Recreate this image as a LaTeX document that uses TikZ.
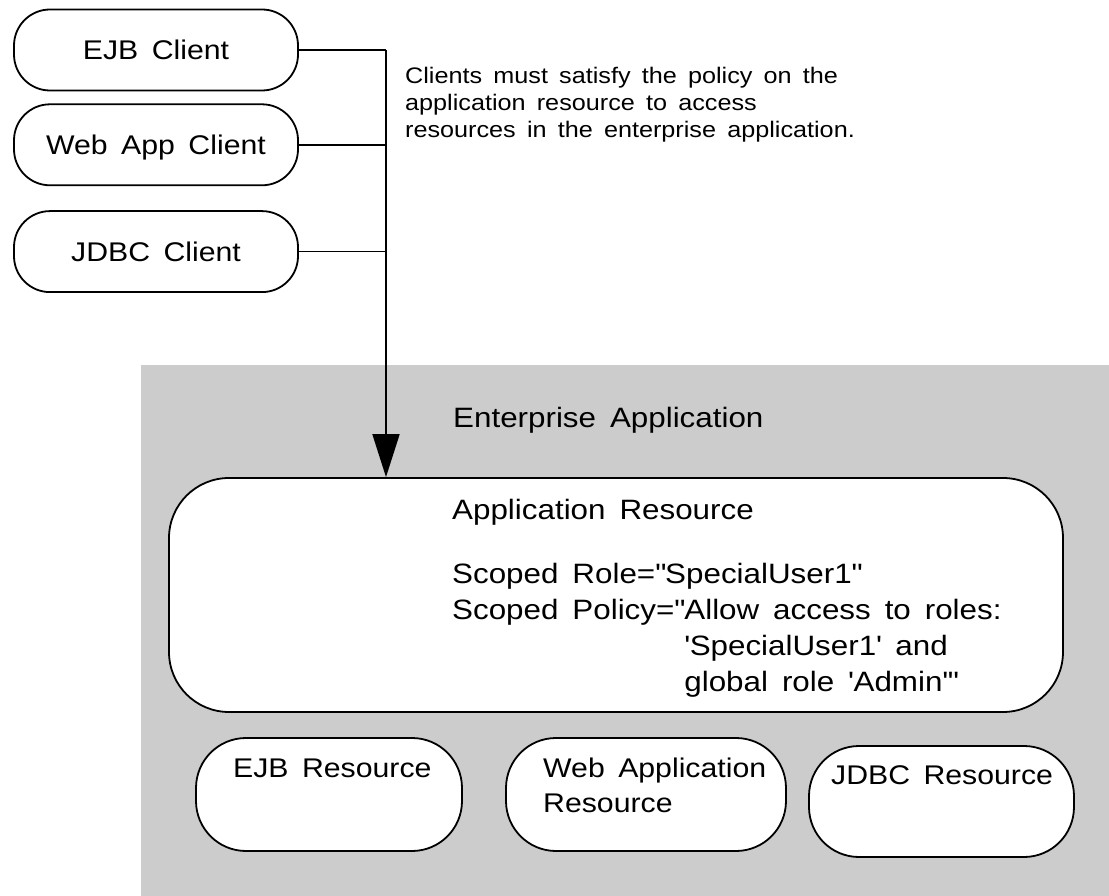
\documentclass[tikz,border=0pt]{standalone}
\usepackage{fontspec}
\setmainfont{Liberation Sans}[FakeStretch=1.12,WordSpace=1.6]
\usetikzlibrary{arrows.meta,positioning}
\definecolor{enterprisegray}{HTML}{CCCCCC}
\newcommand{\qdbl}{\textquotedbl}
\newcommand{\qsgl}{\textquotesingle}
\tikzstyle{clientbox} = [draw=black, fill=white, line width=1.8pt,
    rectangle, rounded corners=36pt, minimum width=284pt, minimum height=81pt,
    inner sep=0pt, text depth=0pt, font=\fontsize{27}{34}\selectfont]
\tikzstyle{resbox} = [draw=black, fill=white, line width=1.8pt, rectangle, inner sep=0pt]
\tikzstyle{plaintext} = [inner sep=0pt, anchor=base west, align=left,
    font=\fontsize{27}{35}\selectfont]
\tikzstyle{link} = [draw=black, line width=1.8pt]

\begin{document}
\begin{tikzpicture}[x=1pt, y=-1pt]
\useasboundingbox (0,0) rectangle (1109,896);
\fill[enterprisegray] (141,365) rectangle (1109,896);
\node[clientbox] (ejb) at (156,50) {EJB Client};
\node[clientbox, below=12pt of ejb] (webapp) {Web App Client};
\node[clientbox, below=24pt of webapp] (jdbc) {JDBC Client};
\coordinate (bus) at (386,50);
\draw[link] (ejb.east) -- (bus);
\draw[link] (webapp.east) -- (webapp.east -| bus);
\draw[link] (jdbc.east) -- (jdbc.east -| bus);
\node[plaintext, font=\fontsize{22.5}{27}\selectfont] (note) at (405,138)
    {Clients must satisfy the policy on the\\application resource to access\\resources in the enterprise application.};
\node[plaintext, font=\fontsize{28}{35}\selectfont] (enterprise) at (453,427) {Enterprise Application};
\node[resbox, rounded corners=60pt, minimum width=894pt, minimum height=234pt] (app) at (616,595) {};
\draw[link, -{Triangle[length=43pt,width=27pt]}] (bus) -- (bus |- app.north);
\node[plaintext, font=\fontsize{28}{36}\selectfont] (apptext) at (452,691)
    {Application Resource\\[28pt]
     Scoped Role=\qdbl SpecialUser1\qdbl\\
     Scoped Policy=\qdbl Allow access to roles:\\
     \phantom{Scoped Policy=\qdbl}\qsgl SpecialUser1\qsgl\ and\\
     \phantom{Scoped Policy=\qdbl}global role \qsgl Admin\qsgl\qdbl};
\node[resbox, rounded corners=50pt, minimum width=266pt, minimum height=113pt] (ejbres) at (329,794.5) {};
\node[plaintext] (ejbreslbl) at (233,777) {EJB Resource};
\node[resbox, rounded corners=50pt, minimum width=280pt, minimum height=113pt] (webres) at (646,794.5) {};
\node[plaintext] (webreslbl) at (543,812) {Web Application\\Resource};
\node[resbox, rounded corners=50pt, minimum width=265pt, minimum height=111pt] (jdbcres) at (941.5,801.5) {};
\node[plaintext] (jdbcreslbl) at (831,784) {JDBC Resource};
\end{tikzpicture}
\end{document}
